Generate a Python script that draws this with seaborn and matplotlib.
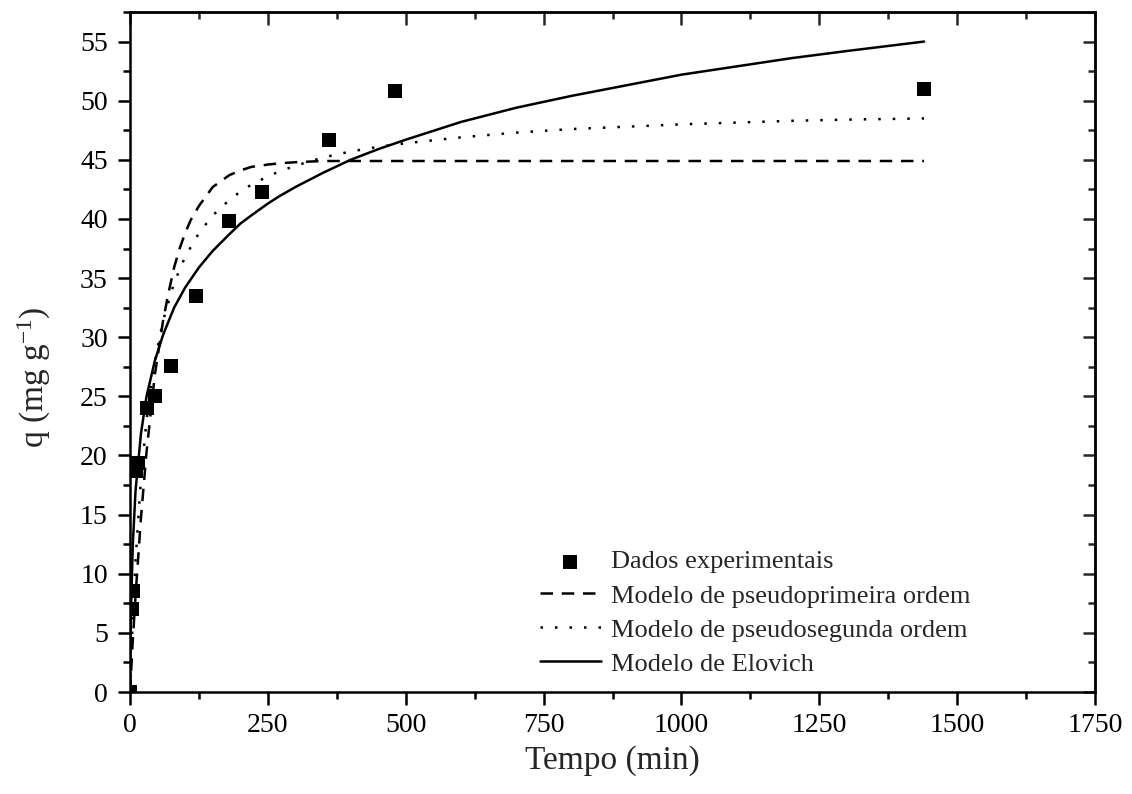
import numpy as np
import pandas as pd
import matplotlib
matplotlib.use("Agg")
import matplotlib.pyplot as plt
from matplotlib.ticker import MultipleLocator
import seaborn as sns

t_exp = [0, 3, 6, 10, 15, 30, 45, 75, 120, 180, 240, 360, 480, 1440]
q_exp = [0.0, 7.0, 8.5, 18.7, 19.4, 24.0, 25.0, 27.6, 33.5, 39.8, 42.3, 46.7, 50.8, 51.0]

# model curves, sampled off the figure
t_pfo = [0, 5, 10, 20, 30, 45, 60, 70, 80, 90, 100, 110, 125, 150, 180, 200, 220, 250,
         270, 300, 350, 600, 1000, 1440]
q_pfo = [0.0, 4.3, 8.1, 14.8, 20.3, 26.8, 31.4, 33.8, 35.9, 37.5, 38.8, 39.9, 41.1, 42.7,
         43.7, 44.1, 44.4, 44.6, 44.7, 44.8, 44.9, 44.9, 44.9, 44.9]

t_pso = [0, 5, 10, 20, 30, 45, 60, 80, 100, 125, 150, 180, 200, 220, 250, 270, 300, 350,
         400, 450, 500, 600, 700, 800, 900, 1000, 1100, 1200, 1300, 1440]
q_pso = [0.0, 6.2, 11.1, 18.1, 23.0, 28.0, 31.4, 34.6, 36.8, 38.8, 40.3, 41.6, 42.3, 42.9,
         43.6, 44.0, 44.5, 45.2, 45.7, 46.1, 46.4, 46.9, 47.3, 47.6, 47.8, 48.0, 48.15,
         48.3, 48.4, 48.5]

t_elo = [0, 1, 2, 5, 10, 20, 30, 45, 60, 80, 100, 125, 150, 180, 200, 220, 250, 270, 300,
         350, 400, 450, 500, 600, 700, 800, 900, 1000, 1100, 1200, 1300, 1440]
q_elo = [0.0, 4.5, 7.3, 12.4, 17.0, 21.9, 25.0, 28.0, 30.2, 32.5, 34.2, 35.9, 37.3, 38.7,
         39.6, 40.3, 41.3, 41.9, 42.7, 43.9, 45.0, 45.9, 46.7, 48.2, 49.4, 50.4, 51.3,
         52.2, 52.9, 53.6, 54.2, 55.0]

labels = ["Dados experimentais", "Modelo de pseudoprimeira ordem",
          "Modelo de pseudosegunda ordem", "Modelo de Elovich"]

sns.set_theme(style="ticks")
plt.rcParams["font.family"] = ["Liberation Serif", "DejaVu Serif"]
plt.rcParams["mathtext.default"] = "regular"

fig = plt.figure(figsize=(11.32, 7.94), dpi=100)
ax = fig.add_axes([130 / 1132, 1 - 692 / 794, 965 / 1132, 680 / 794])

df_exp = pd.DataFrame({"t": t_exp, "q": q_exp})
sns.scatterplot(data=df_exp, x="t", y="q", ax=ax, marker="s", s=100, color="black",
                linewidth=0, zorder=3, label=labels[0])
sns.lineplot(x=t_pfo, y=q_pfo, ax=ax, color="black", lw=1.8, linestyle=(0, (5, 3.5)),
             estimator=None, sort=False, label=labels[1])
sns.lineplot(x=t_pso, y=q_pso, ax=ax, color="black", lw=1.8, linestyle=(0, (1, 4.8)),
             estimator=None, sort=False, label=labels[2])
sns.lineplot(x=t_elo, y=q_elo, ax=ax, color="black", lw=1.8, linestyle="-",
             estimator=None, sort=False, label=labels[3])

ax.set_xlim(0, 1750)
ax.set_ylim(0, 57.5)
ax.xaxis.set_major_locator(MultipleLocator(250))
ax.xaxis.set_minor_locator(MultipleLocator(125))
ax.yaxis.set_major_locator(MultipleLocator(5))
ax.yaxis.set_minor_locator(MultipleLocator(2.5))

for sp in ax.spines.values():
    sp.set_linewidth(1.8)
    sp.set_color("black")

ax.tick_params(which="both", direction="out", width=1.8, colors="black",
               labelsize=20, top=False, right=False)
ax.tick_params(which="major", length=9)
ax.tick_params(which="minor", length=5)
ax.tick_params(axis="x", pad=6)
ax.tick_params(axis="y", pad=7)

# inward ticks on top and right
sec_x = ax.secondary_xaxis("top")
sec_x.xaxis.set_major_locator(MultipleLocator(250))
sec_x.xaxis.set_minor_locator(MultipleLocator(125))
sec_x.tick_params(which="both", direction="in", width=1.8, labeltop=False)
sec_x.tick_params(which="major", length=9)
sec_x.tick_params(which="minor", length=5)
sec_x.spines["top"].set_linewidth(1.8)

sec_y = ax.secondary_yaxis("right")
sec_y.yaxis.set_major_locator(MultipleLocator(5))
sec_y.yaxis.set_minor_locator(MultipleLocator(2.5))
sec_y.tick_params(which="both", direction="in", width=1.8, labelright=False)
sec_y.tick_params(which="major", length=9)
sec_y.tick_params(which="minor", length=5)
sec_y.spines["right"].set_linewidth(1.8)

ax.set_xlabel("Tempo (min)", fontsize=24, labelpad=5)
ax.set_ylabel("q (mg g$^{-1}$)", fontsize=24)
ax.yaxis.set_label_coords(-0.08, 0.463)

ax.legend(loc="upper left", bbox_to_anchor=(540 / 1132, 1 - 550 / 794),
          bbox_transform=fig.transFigure, frameon=False, fontsize=19,
          handlelength=2.3, handletextpad=0.4, labelspacing=0.4,
          borderpad=0, borderaxespad=0)

fig.savefig("out.png", dpi=100)
